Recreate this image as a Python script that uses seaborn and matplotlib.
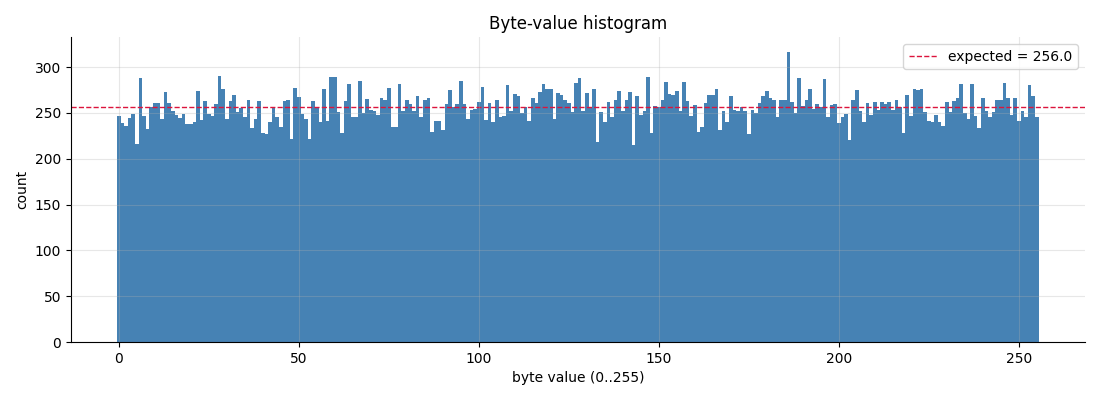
import numpy as np
import pandas as pd
import seaborn as sns
from matplotlib import pyplot as plt

# byte values 0..255 and how often each one showed up
byte_values = np.arange(256)
counts = [
    247, 239, 236, 244, 249, 216, 288, 247, 232, 257,
    261, 261, 243, 273, 261, 252, 248, 244, 249, 238,
    238, 240, 274, 242, 263, 249, 247, 260, 290, 276,
    243, 263, 270, 251, 255, 246, 264, 234, 243, 263,
    228, 227, 240, 257, 246, 235, 263, 264, 222, 277,
    267, 249, 243, 222, 263, 257, 240, 276, 241, 289,
    289, 251, 228, 263, 282, 246, 246, 285, 250, 265,
    253, 252, 248, 266, 264, 277, 235, 235, 282, 252,
    264, 260, 252, 269, 246, 264, 266, 229, 241, 241,
    231, 260, 275, 257, 260, 285, 260, 243, 253, 254,
    262, 278, 242, 261, 240, 264, 245, 247, 280, 252,
    271, 268, 250, 256, 241, 266, 261, 273, 282, 276,
    276, 243, 272, 270, 264, 261, 251, 283, 288, 252,
    272, 257, 276, 218, 251, 240, 262, 246, 264, 274,
    252, 264, 273, 215, 269, 248, 252, 289, 228, 258,
    257, 264, 284, 271, 270, 274, 252, 284, 263, 247,
    259, 229, 235, 261, 270, 270, 276, 231, 252, 240,
    269, 253, 252, 257, 252, 227, 253, 250, 261, 268,
    274, 266, 264, 245, 264, 264, 317, 262, 250, 288,
    258, 264, 276, 254, 260, 256, 287, 245, 259, 260,
    239, 245, 249, 220, 264, 275, 252, 240, 261, 248,
    262, 253, 262, 260, 262, 253, 264, 256, 228, 270,
    247, 276, 275, 276, 251, 241, 240, 248, 240, 236,
    262, 251, 263, 266, 282, 250, 243, 282, 247, 233,
    266, 252, 245, 251, 264, 264, 283, 266, 248, 266,
    241, 252, 246, 281, 269, 245,
]
expected = 256.0

df = pd.DataFrame({'byte': byte_values, 'count': counts})

fig, ax = plt.subplots(figsize=(11, 4), dpi=100)
sns.histplot(data=df, x='byte', weights='count', discrete=True, ax=ax,
             color='steelblue', alpha=1, linewidth=0, edgecolor='none')
ax.axhline(expected, color='crimson', linestyle='--', linewidth=1,
           label='expected = %.1f' % expected)

ax.set_axisbelow(False)
ax.grid(True, color='#b0b0b0', alpha=0.3, linewidth=0.8)
sns.despine(ax=ax)
ax.set_title('Byte-value histogram')
ax.set_xlabel('byte value (0..255)')
ax.set_ylabel('count')
ax.set_xticks([0, 50, 100, 150, 200, 250])
ax.legend(loc='upper right')

fig.subplots_adjust(left=0.0645, right=0.986, top=0.9075, bottom=0.145)
plt.savefig('out.png', dpi=100)
